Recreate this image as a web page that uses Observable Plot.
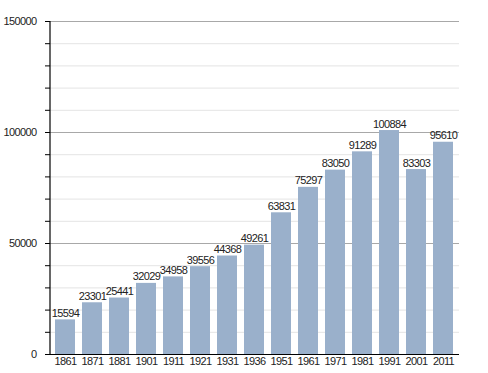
<!DOCTYPE html>
<html>
<head>
<meta charset="utf-8">
<script src="https://cdn.jsdelivr.net/npm/d3@7"></script>
<script src="https://cdn.jsdelivr.net/npm/@observablehq/plot@0.6"></script>
<style>
  html, body { margin: 0; padding: 0; background: #fff; }
</style>
</head>
<body>
<div id="chart"></div>
<script>
const years = ["1861","1871","1881","1901","1911","1921","1931","1936","1951","1961","1971","1981","1991","2001","2011"];
const population = [15594, 23301, 25441, 32029, 34958, 39556, 44368, 49261, 63831, 75297, 83050, 91289, 100884, 83303, 95610];
const majorTicks = [0, 50000, 100000, 150000];
const minorTicks = [10000, 20000, 30000, 40000, 60000, 70000, 80000, 90000, 110000, 120000, 130000, 140000];
const majorGrid = [50000, 100000, 150000];

const data = years.map((y, i) => ({year: y, pop: population[i]}));

const leftAxisLine = (index, scales, values, dim) => {
  const g = d3.create("svg:g");
  g.append("line")
    .attr("x1", dim.marginLeft).attr("x2", dim.marginLeft)
    .attr("y1", scales.y(0)).attr("y2", scales.y(150000))
    .attr("stroke", "#000").attr("stroke-width", 1.2);
  return g.node();
};

const chart = Plot.plot({
  width: 488,
  height: 373,
  marginTop: 21,
  marginBottom: 19,
  marginLeft: 50,
  marginRight: 29,
  style: {fontFamily: "'Liberation Sans', Arial, sans-serif", fontSize: "11px", color: "#000", background: "#fff", letterSpacing: "-0.6px"},
  x: {domain: years, paddingInner: 0.245, paddingOuter: 0.04, label: null},
  y: {domain: [0, 150000], label: null},
  marks: [
    Plot.ruleY(minorTicks, {stroke: "#e4e4e4"}),
    Plot.ruleY(majorGrid, {stroke: "#a8a8a8"}),
    Plot.barY(data, {x: "year", y: "pop", fill: "#9ab0cb"}),
    Plot.text(data, {x: "year", y: "pop", text: d => String(d.pop), lineAnchor: "bottom", dy: -3, fill: "#222"}),
    Plot.axisY({ticks: minorTicks, tickSize: 5, tickFormat: () => "", label: null}),
    Plot.axisY({ticks: majorTicks, tickSize: 5, tickPadding: 9, tickFormat: d => String(d), fill: "#222", label: null}),
    Plot.axisX({tickSize: 0, tickPadding: 3, fill: "#222", label: null}),
    Plot.ruleY([0], {stroke: "#000", strokeWidth: 1.2}),
    leftAxisLine
  ]
});
document.getElementById("chart").appendChild(chart);
</script>
</body>
</html>
